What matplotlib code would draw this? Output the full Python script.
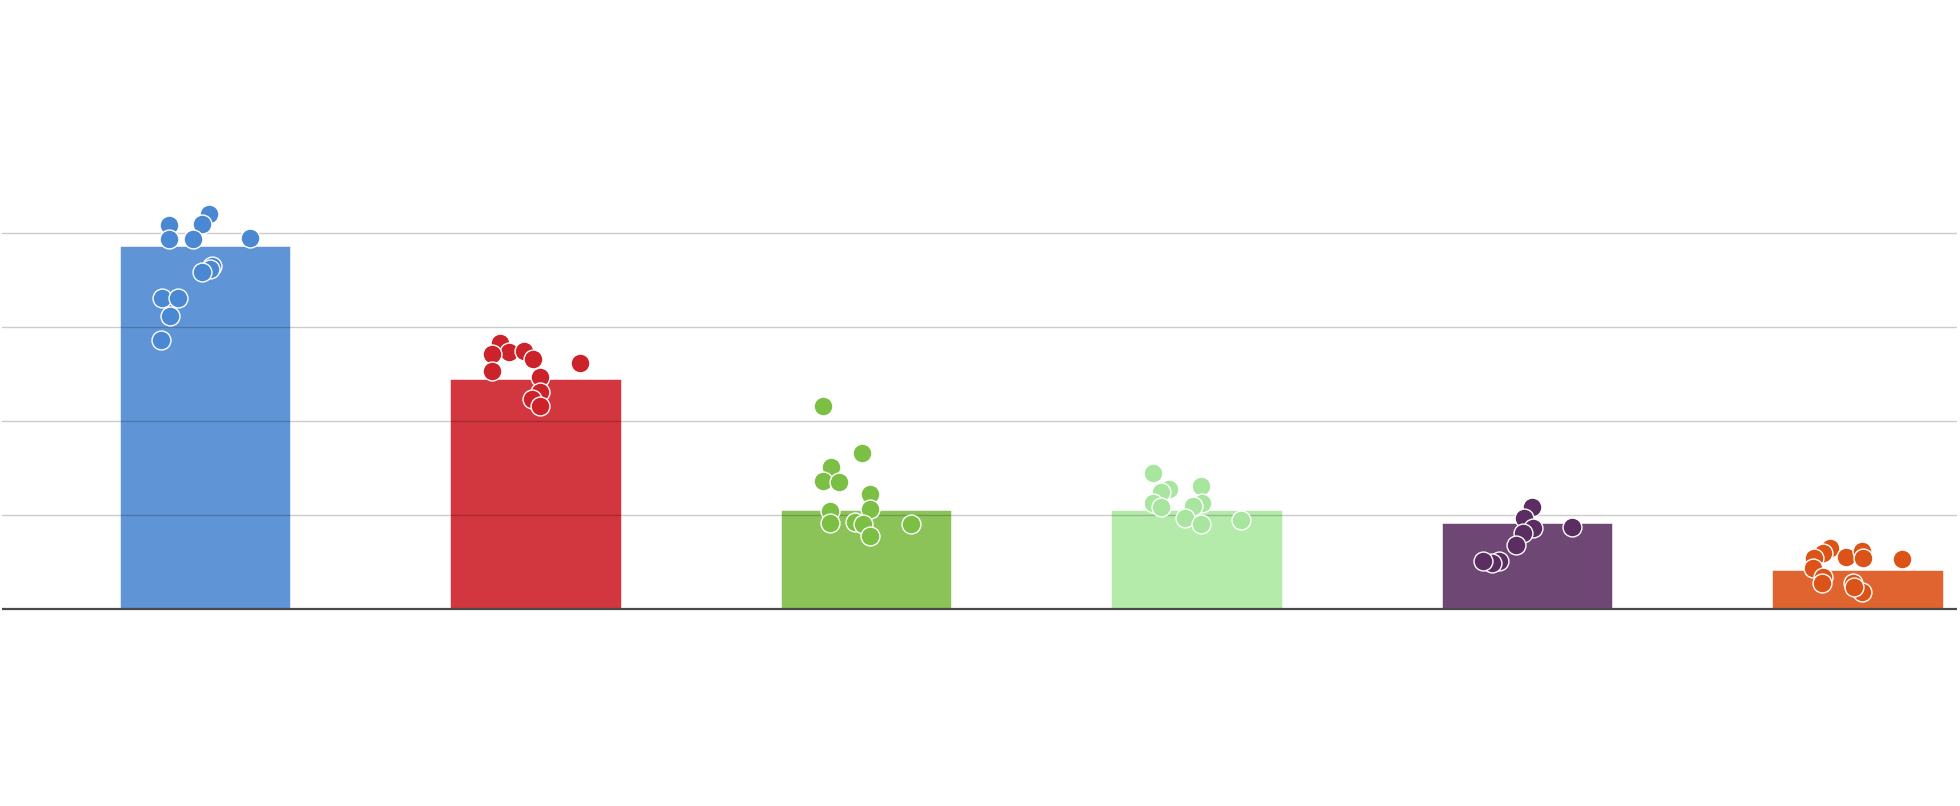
import matplotlib
matplotlib.use("Agg")
import matplotlib.pyplot as plt

# bar heights, one per group
categories = ["A", "B", "C", "D", "E", "F"]
bar_values = [38.6, 24.5, 10.5, 10.5, 9.1, 4.15]

# individual points per group: value and jitter
pts_y = [
    [42.0, 41.0, 40.85, 39.33, 39.33, 39.44, 36.5, 36.2, 35.85, 33.05, 33.05, 31.14, 28.65],
    [28.33, 27.37, 27.45, 26.56, 27.13, 25.35, 24.65, 23.12, 22.34, 21.6, 26.2],
    [21.6, 16.56, 15.07, 13.62, 13.54, 12.2, 10.61, 10.46, 9.12, 9.29, 9.04, 7.77, 9.04],
    [14.5, 12.73, 12.48, 13.09, 11.31, 10.96, 11.24, 10.82, 9.65, 9.04, 9.47],
    [10.82, 9.65, 8.59, 8.12, 6.81, 5.14, 4.93, 5.14, 8.76],
    [6.46, 5.93, 5.39, 4.33, 3.44, 2.73, 5.5, 6.2, 5.39, 2.73, 1.84, 2.31, 5.29],
]
pts_jitter = [
    [0.013, -0.010, -0.108, -0.108, -0.035, 0.135, 0.021, 0.015, -0.010, -0.131, -0.082, -0.107, -0.132],
    [-0.107, -0.081, -0.034, -0.008, -0.132, -0.132, 0.014, 0.014, -0.011, 0.014, 0.135],
    [-0.131, -0.011, -0.107, -0.131, -0.083, 0.013, 0.013, -0.108, -0.108, -0.034, -0.010, 0.013, 0.135],
    [-0.132, -0.084, -0.107, 0.014, 0.017, -0.010, -0.132, -0.107, -0.035, 0.014, 0.135],
    [0.014, -0.009, 0.017, -0.011, -0.034, -0.084, -0.107, -0.132, 0.135],
    [-0.083, -0.105, -0.131, -0.134, -0.105, -0.108, -0.035, 0.013, 0.016, -0.013, 0.013, -0.011, 0.135],
]

bar_colors = ["#5f95d6", "#d2363e", "#8bc358", "#b4ebaa", "#6e4775", "#e0642f"]
dot_colors = ["#4a88d4", "#cc2229", "#7cbf45", "#a8e6a0", "#5c2d62", "#dc5318"]

fig = plt.figure(figsize=(19.6, 8.06), dpi=100)
ax = fig.add_axes([2 / 1960, 0, 1955 / 1960, 1])

x = list(range(len(categories)))
ax.bar(x, bar_values, width=0.515, color=bar_colors, edgecolor="white",
       linewidth=0.4, zorder=1)

# gridlines over the bars
for gy in [10, 20, 30, 40]:
    ax.axhline(gy, color="black", alpha=0.2, linewidth=1, zorder=2)
ax.axhline(0, color="#4a4a4a", linewidth=1.6, zorder=4)

for i in x:
    xs = [i + j for j in pts_jitter[i]]
    ax.scatter(xs, pts_y[i], s=185, color=dot_colors[i], edgecolor="white",
               linewidth=1.0, zorder=3)

ax.set_xlim(-0.614, 5.301)
ax.set_ylim(-20.96, 64.79)
ax.axis("off")

fig.savefig("out.png", dpi=100)
